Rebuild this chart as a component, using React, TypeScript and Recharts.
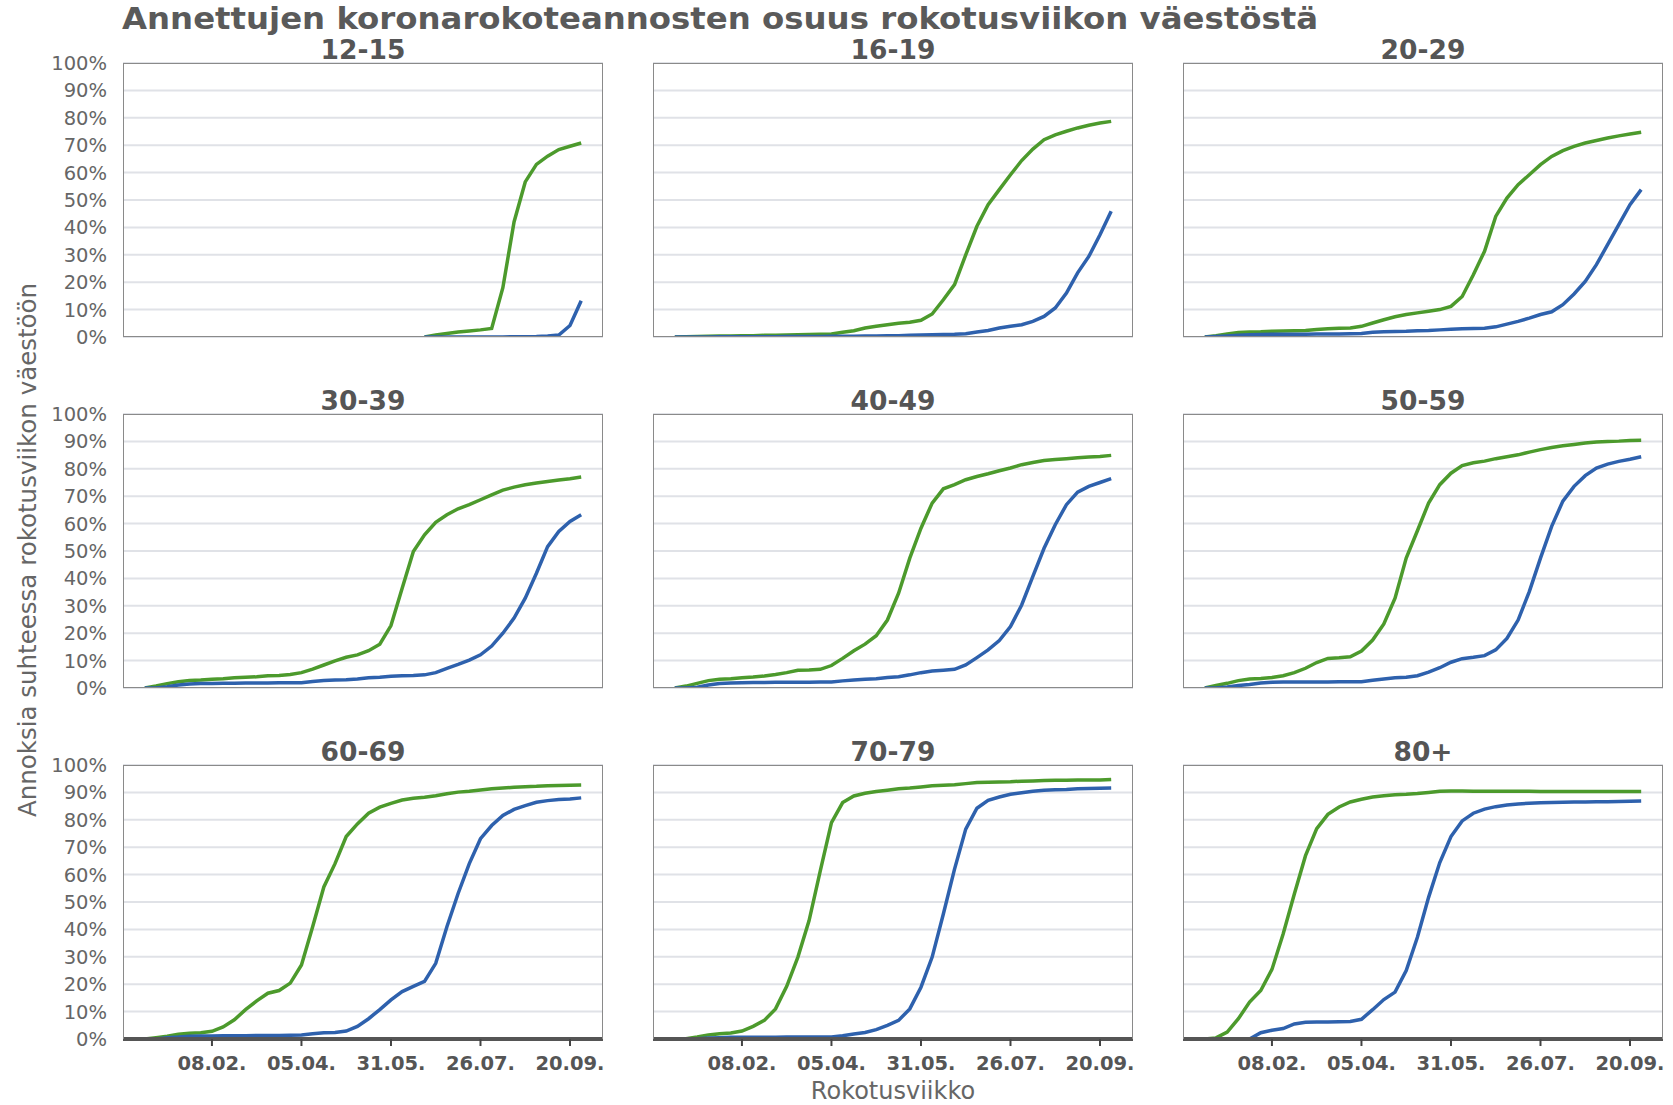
import React from 'react';
import { LineChart, Line, XAxis, YAxis, CartesianGrid } from 'recharts';

// Vaccination weeks (Mondays), 28.12.2020 – 27.09.2021
const weeks = [
  '28.12.', '04.01.', '11.01.', '18.01.', '25.01.', '01.02.', '08.02.', '15.02.', '22.02.', '01.03.',
  '08.03.', '15.03.', '22.03.', '29.03.', '05.04.', '12.04.', '19.04.', '26.04.', '03.05.', '10.05.',
  '17.05.', '24.05.', '31.05.', '07.06.', '14.06.', '21.06.', '28.06.', '05.07.', '12.07.', '19.07.',
  '26.07.', '02.08.', '09.08.', '16.08.', '23.08.', '30.08.', '06.09.', '13.09.', '20.09.', '27.09.',
];
const tickWeeks = ['08.02.', '05.04.', '31.05.', '26.07.', '20.09.'];
const yTicks = [0, 10, 20, 30, 40, 50, 60, 70, 80, 90, 100];
const groups = ['12-15', '16-19', '20-29', '30-39', '40-49', '50-59', '60-69', '70-79', '80+'];

const N = null;
// First dose (green), % of population
const first_12_15 = [N, N, N, N, N, N, N, N, N, N, N, N, N, N, N, N, N, N, N, N, N, N, N, N, N,
  0, 0.7, 1.3, 1.8, 2.2, 2.6, 3.1, 18, 42, 56.6, 63, 66, 68.4, 69.6, 70.8];
const first_16_19 = [0, 0.1, 0.2, 0.3, 0.4, 0.4, 0.5, 0.5, 0.6, 0.6, 0.7, 0.8, 0.9, 1.0, 1.1, 1.7, 2.3, 3.3, 3.9, 4.5,
  5.0, 5.4, 6.1, 8.4, 13.6, 19.1, 30, 40.4, 48.3, 53.8, 59.2, 64.4, 68.6, 72, 73.8, 75.1, 76.3, 77.3, 78.1, 78.7];
const first_20_29 = [0, 0.5, 1.1, 1.6, 1.8, 1.9, 2.1, 2.2, 2.3, 2.4, 2.7, 3.0, 3.2, 3.3, 3.9, 5.1, 6.3, 7.4, 8.2, 8.8,
  9.4, 10.0, 11.2, 14.8, 22.7, 31.3, 44.0, 50.7, 55.6, 59.2, 62.9, 65.9, 68, 69.6, 70.8, 71.7, 72.6, 73.4, 74.1, 74.7];
const first_30_39 = [0, 0.7, 1.6, 2.3, 2.7, 2.9, 3.2, 3.4, 3.7, 3.9, 4.1, 4.5, 4.6, 4.9, 5.6, 6.9, 8.4, 9.9, 11.2, 12.1,
  13.6, 16, 22.8, 36.4, 49.8, 55.9, 60.5, 63.2, 65.4, 66.9, 68.7, 70.5, 72.2, 73.3, 74.2, 74.8, 75.4, 75.9, 76.4, 77.0];
const first_40_49 = [0, 0.7, 1.7, 2.7, 3.2, 3.4, 3.7, 4.0, 4.4, 4.9, 5.6, 6.5, 6.6, 6.8, 8.2, 10.8, 13.6, 16, 19.1, 24.8,
  34.6, 47.4, 58.3, 67.5, 72.7, 74.2, 76, 77.2, 78.2, 79.3, 80.3, 81.5, 82.3, 83.0, 83.4, 83.7, 84.0, 84.3, 84.5, 84.9];
const first_50_59 = [0, 0.9, 1.7, 2.7, 3.3, 3.5, 3.8, 4.5, 5.6, 7.2, 9.3, 10.8, 11.0, 11.4, 13.5, 17.5, 23.4, 32.8, 47.4, 57.4,
  67.5, 74.2, 78.4, 81.2, 82.2, 82.8, 83.7, 84.4, 85.1, 86.1, 87.0, 87.8, 88.4, 88.9, 89.4, 89.8, 90.0, 90.1, 90.3, 90.4];
const first_60_69 = [0, 0.5, 1.0, 1.7, 2.1, 2.3, 2.8, 4.4, 7.0, 10.7, 13.9, 16.7, 17.7, 20.4, 27, 41, 55.5, 64, 73.9, 78.5,
  82.4, 84.6, 86, 87.2, 87.9, 88.2, 88.8, 89.5, 90.1, 90.4, 90.9, 91.3, 91.6, 91.9, 92.1, 92.2, 92.4, 92.5, 92.6, 92.7];
const first_70_79 = [0, 0.1, 0.7, 1.5, 1.9, 2.2, 2.9, 4.6, 6.8, 11, 19.2, 29.9, 43.2, 61.4, 79, 86.3, 88.7, 89.7, 90.3, 90.8,
  91.3, 91.6, 92.0, 92.4, 92.6, 92.8, 93.2, 93.6, 93.7, 93.8, 93.9, 94.1, 94.2, 94.3, 94.4, 94.4, 94.5, 94.5, 94.5, 94.7];
const first_80 = [0, 0.4, 2.5, 7.4, 13.5, 17.7, 25.4, 38.3, 52.9, 66.9, 76.8, 82, 84.7, 86.5, 87.5, 88.3, 88.8, 89.1, 89.3, 89.6,
  90.0, 90.4, 90.5, 90.5, 90.4, 90.4, 90.4, 90.4, 90.4, 90.4, 90.3, 90.3, 90.3, 90.3, 90.3, 90.3, 90.3, 90.3, 90.3, 90.3];

// Second dose (blue), % of population
const second_12_15 = [N, N, N, N, N, N, N, N, N, N, N, N, N, N, N, N, N, N, N, N, N, N, N, N, N,
  0, 0, 0, 0, 0, 0, 0, 0, 0.1, 0.1, 0.2, 0.4, 0.7, 4.2, 13.2];
const second_16_19 = [0, 0, 0, 0, 0.1, 0.1, 0.1, 0.1, 0.1, 0.1, 0.2, 0.2, 0.2, 0.2, 0.3, 0.3, 0.3, 0.4, 0.4, 0.5,
  0.5, 0.6, 0.7, 0.8, 0.9, 1.0, 1.2, 1.8, 2.4, 3.3, 3.9, 4.5, 5.7, 7.5, 10.6, 16, 23.4, 29.4, 37.3, 45.9];
const second_20_29 = [0, 0.2, 0.4, 0.6, 0.8, 0.9, 1.0, 1.0, 1.0, 1.0, 1.1, 1.1, 1.1, 1.2, 1.3, 1.7, 1.9, 2.0, 2.1, 2.3,
  2.4, 2.6, 2.8, 3.0, 3.1, 3.2, 3.7, 4.7, 5.7, 6.9, 8.2, 9.2, 11.8, 15.7, 20.3, 26.4, 33.7, 41, 48.3, 53.8];
const second_30_39 = [0, 0, 0.5, 1.1, 1.5, 1.6, 1.6, 1.7, 1.7, 1.8, 1.8, 1.8, 1.9, 1.9, 1.9, 2.4, 2.7, 2.9, 3.0, 3.3,
  3.7, 3.9, 4.3, 4.5, 4.6, 4.8, 5.6, 7.2, 8.6, 10.2, 12.1, 15.3, 20, 25.5, 32.8, 41.9, 51.6, 57.1, 60.8, 63.2];
const second_40_49 = [0, 0, 0.3, 1.1, 1.6, 1.8, 1.9, 2.0, 2.0, 2.1, 2.1, 2.1, 2.1, 2.2, 2.2, 2.6, 2.9, 3.2, 3.4, 3.8,
  4.1, 4.8, 5.6, 6.2, 6.5, 6.8, 8.4, 11.1, 13.9, 17.3, 22.4, 30.3, 40.7, 51, 59.6, 66.9, 71.5, 73.6, 75.0, 76.4];
const second_50_59 = [0, 0, 0.4, 0.9, 1.3, 1.8, 2.1, 2.2, 2.2, 2.2, 2.2, 2.2, 2.3, 2.3, 2.3, 2.8, 3.3, 3.7, 3.9, 4.5,
  5.8, 7.4, 9.4, 10.7, 11.2, 11.8, 13.9, 18.1, 24.8, 35.2, 47.4, 59, 68.2, 73.6, 77.5, 80.3, 81.7, 82.7, 83.5, 84.4];
const second_60_69 = [0, 0, 0.5, 0.7, 1.0, 1.1, 1.1, 1.2, 1.2, 1.2, 1.3, 1.3, 1.3, 1.4, 1.5, 1.9, 2.3, 2.4, 2.9, 4.6,
  7.4, 10.7, 14.3, 17.3, 19.2, 21, 27.6, 41, 53.1, 64, 73.1, 77.9, 81.6, 83.8, 85.2, 86.4, 87, 87.4, 87.6, 88];
const second_70_79 = [0, 0, 0.1, 0.4, 0.5, 0.6, 0.6, 0.6, 0.6, 0.6, 0.7, 0.7, 0.7, 0.7, 0.7, 1.2, 1.8, 2.4, 3.4, 5.0,
  6.8, 11, 18.9, 29.9, 45.6, 62, 76.6, 84.2, 87.1, 88.3, 89.3, 89.9, 90.4, 90.8, 91.0, 91.1, 91.3, 91.4, 91.5, 91.6];
const second_80 = [0, 0, 0, 0, 0, 2.3, 3.2, 3.8, 5.5, 6.1, 6.2, 6.2, 6.3, 6.4, 7.2, 10.7, 14.4, 17.1, 25, 37.1,
  51.7, 64.4, 73.9, 79.6, 82.4, 83.9, 84.8, 85.4, 85.8, 86.0, 86.2, 86.3, 86.4, 86.5, 86.5, 86.6, 86.6, 86.7, 86.8, 86.9];

const firstDose = [first_12_15, first_16_19, first_20_29, first_30_39, first_40_49, first_50_59, first_60_69, first_70_79, first_80];
const secondDose = [second_12_15, second_16_19, second_20_29, second_30_39, second_40_49, second_50_59, second_60_69, second_70_79, second_80];

const GREEN = '#4c9a2c';
const BLUE = '#2e61ad';
const FONT = 'DejaVu Sans';
const COL_X = [123, 653, 1183];
const ROW_Y = [63, 414, 765];
const PW = 480;
const PH = 274;

const xTicks = tickWeeks.map((w) => weeks.indexOf(w));

function Panel({ idx }: { idx: number }) {
  const col = idx % 3;
  const row = Math.floor(idx / 3);
  const isLeft = col === 0;
  const isBottom = row === 2;
  const data = weeks.map((w, i) => ({ i, week: w, first: firstDose[idx][i], second: secondDose[idx][i] }));
  const YW = isLeft ? 80 : 0;
  const MT = 12;
  const MB = isBottom ? 0 : 12;
  const XH = isBottom ? 50 : 0;
  const MR = 40;
  return (
    <>
      <div style={{ position: 'absolute', left: COL_X[col] - YW, top: ROW_Y[row] - MT }}>
        <LineChart
          width={YW + PW + MR}
          height={MT + PH + XH + MB}
          data={data}
          margin={{ top: MT, right: MR, bottom: MB, left: 0 }}
        >
          <CartesianGrid vertical={false} stroke="#e0e2e7" strokeWidth={2} />
          <XAxis
            type="number"
            dataKey="i"
            domain={[-1.95, 40.95]}
            ticks={xTicks}
            interval={0}
            allowDataOverflow
            tickFormatter={(v: number) => weeks[v]}
            hide={!isBottom}
            height={XH}
            axisLine={{ stroke: '#555555', strokeWidth: 4 }}
            tickLine={{ stroke: '#444444', strokeWidth: 2 }}
            tickSize={7}
            tickMargin={10}
            tick={{ fill: '#555555', fontSize: 19.5, fontWeight: 'bold', fontFamily: FONT }}
          />
          <YAxis
            type="number"
            domain={[0, 100]}
            ticks={yTicks}
            interval={0}
            allowDataOverflow
            hide={!isLeft}
            width={YW}
            axisLine={false}
            tickLine={false}
            tickSize={0}
            tickMargin={16}
            tickFormatter={(v: number) => v + '%'}
            tick={{ fill: '#666666', fontSize: 19.5, fontFamily: FONT }}
          />
          <Line dataKey="first" stroke={GREEN} strokeWidth={3.5} dot={false} isAnimationActive={false} type="linear" />
          <Line dataKey="second" stroke={BLUE} strokeWidth={3.5} dot={false} isAnimationActive={false} type="linear" />
        </LineChart>
      </div>
      <div
        style={{
          position: 'absolute',
          left: COL_X[col],
          top: ROW_Y[row],
          width: PW,
          height: PH,
          boxSizing: 'border-box',
          border: '1.5px solid #8a8a8a',
          borderBottom: isBottom ? 'none' : '1.5px solid #8a8a8a',
          pointerEvents: 'none',
        }}
      />
    </>
  );
}

export default function App() {
  return (
    <div style={{ position: 'absolute', left: 0, top: 0, width: 1673, height: 1105, background: '#ffffff', fontFamily: FONT }}>
      {groups.map((g, idx) => (
        <Panel key={g} idx={idx} />
      ))}
      <svg width={1673} height={1105} style={{ position: 'absolute', left: 0, top: 0, pointerEvents: 'none' }}>
        <text
          x={122}
          y={29}
          fontFamily={FONT}
          fontWeight="bold"
          fontSize={31}
          textLength={1196}
          lengthAdjust="spacingAndGlyphs"
          fill="#5a5a5a"
        >
          Annettujen koronarokoteannosten osuus rokotusviikon väestöstä
        </text>
        {groups.map((g, idx) => (
          <text
            key={g}
            x={COL_X[idx % 3] + PW / 2}
            y={ROW_Y[Math.floor(idx / 3)] - 4}
            textAnchor="middle"
            fontFamily={FONT}
            fontWeight="bold"
            fontSize={26.5}
            fill="#555555"
          >
            {g}
          </text>
        ))}
        <text
          x={0}
          y={0}
          transform="translate(27,550) rotate(-90)"
          textAnchor="middle"
          dominantBaseline="central"
          fontFamily={FONT}
          fontSize={24.5}
          fill="#666666"
        >
          Annoksia suhteessa rokotusviikon väestöön
        </text>
        <text x={893} y={1091} textAnchor="middle" dominantBaseline="central" fontFamily={FONT} fontSize={24} fill="#666666">
          Rokotusviikko
        </text>
      </svg>
    </div>
  );
}
